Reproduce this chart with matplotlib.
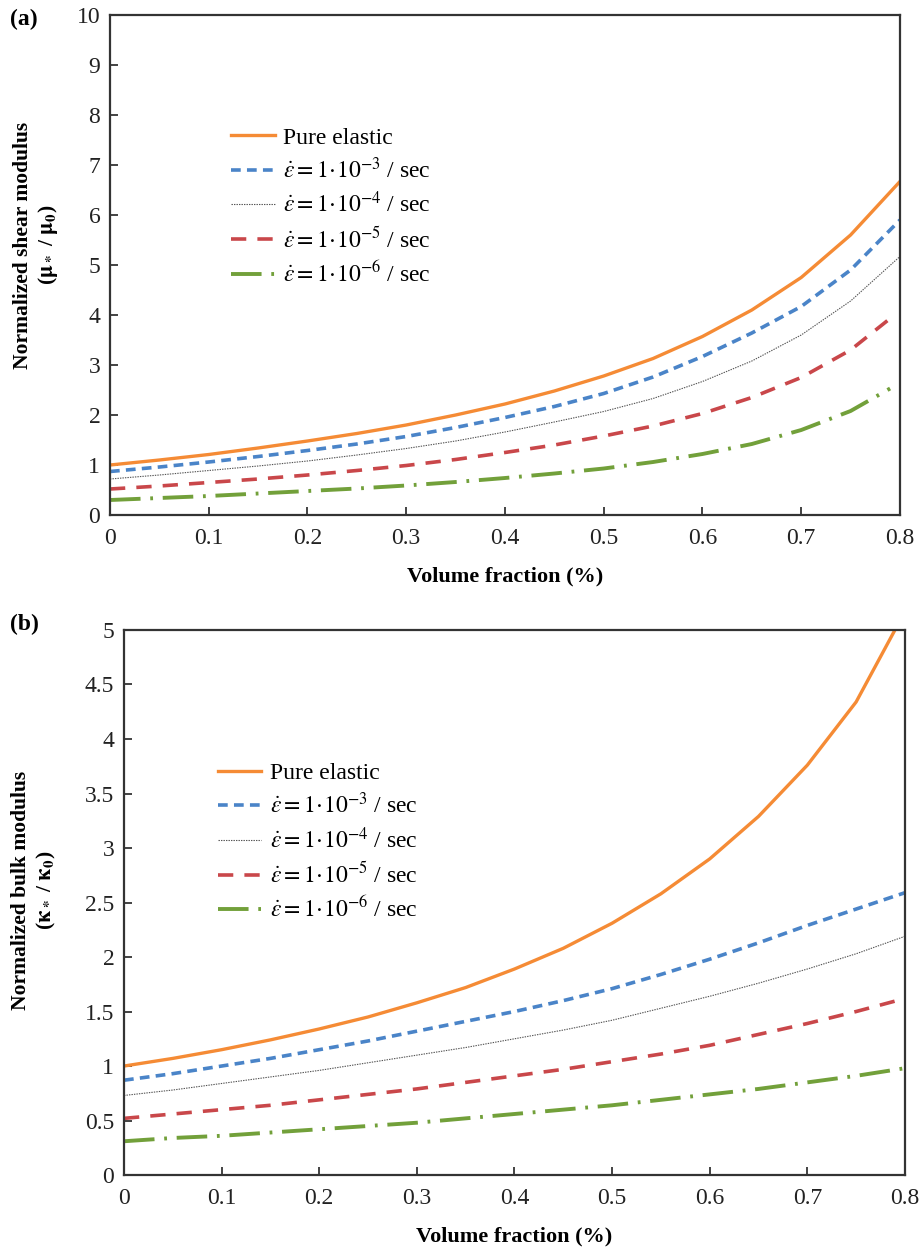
import numpy as np
import matplotlib
matplotlib.use("Agg")
import matplotlib.pyplot as plt
from matplotlib.ticker import FuncFormatter

plt.rcParams['font.family'] = ['Liberation Serif', 'DejaVu Serif']
plt.rcParams['mathtext.fontset'] = 'stix'
plt.rcParams['lines.scale_dashes'] = False

# volume fraction
vf = np.array([0, 0.05, 0.1, 0.15, 0.2, 0.25, 0.3, 0.35, 0.4, 0.45, 0.5, 0.55, 0.6, 0.65, 0.7, 0.75, 0.8])
# red / green curves of (a) stop a little before 0.8
vf_a = np.array([0, 0.05, 0.1, 0.15, 0.2, 0.25, 0.3, 0.35, 0.4, 0.45, 0.5, 0.55, 0.6, 0.65, 0.7, 0.75, 0.79])

# (a) normalized shear modulus
mu_el = np.array([1.00, 1.10, 1.21, 1.34, 1.48, 1.63, 1.80, 2.00, 2.22, 2.48, 2.78, 3.13, 3.57, 4.10, 4.75, 5.60, 6.67])
mu_3 = np.array([0.87, 0.96, 1.06, 1.17, 1.29, 1.42, 1.57, 1.75, 1.95, 2.17, 2.43, 2.76, 3.17, 3.64, 4.17, 4.90, 5.90])
mu_4 = np.array([0.72, 0.80, 0.89, 0.98, 1.08, 1.20, 1.33, 1.48, 1.66, 1.86, 2.07, 2.33, 2.67, 3.08, 3.60, 4.28, 5.17])
mu_5 = np.array([0.52, 0.58, 0.65, 0.72, 0.80, 0.89, 0.99, 1.11, 1.25, 1.40, 1.58, 1.78, 2.03, 2.35, 2.75, 3.30, 3.93])
mu_6 = np.array([0.30, 0.34, 0.38, 0.43, 0.48, 0.53, 0.59, 0.66, 0.74, 0.83, 0.93, 1.06, 1.22, 1.42, 1.70, 2.08, 2.53])

# (b) normalized bulk modulus
k_el = np.array([1.00, 1.07, 1.15, 1.24, 1.34, 1.45, 1.58, 1.72, 1.89, 2.08, 2.31, 2.58, 2.90, 3.29, 3.76, 4.34, 5.17])
k_3 = np.array([0.87, 0.93, 1.00, 1.07, 1.15, 1.23, 1.32, 1.41, 1.50, 1.60, 1.71, 1.84, 1.98, 2.13, 2.29, 2.44, 2.59])
k_4 = np.array([0.73, 0.78, 0.84, 0.90, 0.96, 1.03, 1.10, 1.17, 1.25, 1.33, 1.42, 1.53, 1.64, 1.76, 1.89, 2.03, 2.19])
k_5 = np.array([0.52, 0.56, 0.60, 0.64, 0.69, 0.74, 0.79, 0.85, 0.91, 0.97, 1.04, 1.11, 1.19, 1.29, 1.39, 1.50, 1.62])
k_6 = np.array([0.31, 0.34, 0.36, 0.39, 0.42, 0.45, 0.48, 0.52, 0.56, 0.60, 0.64, 0.69, 0.74, 0.79, 0.85, 0.91, 0.98])

labels = ['Pure elastic',
          r'$\dot{\varepsilon}=1\!\cdot\!10^{-3}$ / sec',
          r'$\dot{\varepsilon}=1\!\cdot\!10^{-4}$ / sec',
          r'$\dot{\varepsilon}=1\!\cdot\!10^{-5}$ / sec',
          r'$\dot{\varepsilon}=1\!\cdot\!10^{-6}$ / sec']

styles = [dict(color='#F58B35', lw=2.4, ls='-'),
          dict(color='#4A84C8', lw=2.6, dashes=(7, 4.5)),
          dict(color='#555555', lw=0.8, dashes=(1, 0.8)),
          dict(color='#C9474A', lw=2.6, dashes=(11, 8)),
          dict(color='#72A03A', lw=2.8, dashes=(22, 7, 2, 7))]

fig = plt.figure(figsize=(9.22, 12.47), dpi=100)
ax1 = fig.add_axes([0.1193, 0.587, 0.8568, 0.401])
ax2 = fig.add_axes([0.1345, 0.0577, 0.847, 0.4371])

fmt = FuncFormatter(lambda v, p: '%g' % v)

def style_axes(ax, ymax, ystep):
    ax.set_xlim(0, 0.8)
    ax.set_ylim(0, ymax)
    ax.set_xticks(np.arange(0, 0.81, 0.1))
    ax.set_yticks(np.arange(0, ymax + 0.01, ystep))
    ax.xaxis.set_major_formatter(fmt)
    ax.yaxis.set_major_formatter(fmt)
    ax.tick_params(direction='in', length=6, width=1.2, labelsize=17, colors='#222222')
    ax.tick_params(axis='x', pad=9)
    ax.tick_params(axis='y', pad=7)
    for s in ax.spines.values():
        s.set_linewidth(1.6)
        s.set_color('#333333')
    ax.set_xlabel('Volume fraction (%)', fontsize=16, fontweight='bold', labelpad=13)

xs_a = [vf, vf, vf, vf_a, vf_a]
for y, x, lab, st in zip([mu_el, mu_3, mu_4, mu_5, mu_6], xs_a, labels, styles):
    ax1.plot(x, y, label=lab, **st)
for y, lab, st in zip([k_el, k_3, k_4, k_5, k_6], labels, styles):
    ax2.plot(vf, y, label=lab, **st)

style_axes(ax1, 10, 1)
style_axes(ax2, 5, 0.5)

ax1.set_ylabel('Normalized shear modulus\n' + r'($\mathbf{\mu_*}$ / $\mathbf{\mu_0}$)', fontsize=15.5, fontweight='bold')
ax1.yaxis.set_label_coords(-0.063, 0.54)
ax2.set_ylabel('Normalized bulk modulus\n' + r'($\mathbf{\kappa_*}$ / $\mathbf{\kappa_0}$)', fontsize=15.5, fontweight='bold')
ax2.yaxis.set_label_coords(-0.085, 0.523)

for ax, anchor in [(ax1, (0.153, 0.776)), (ax2, (0.12, 0.757))]:
    ax.legend(loc='upper left', bbox_to_anchor=anchor, frameon=False, fontsize=17,
              handlelength=1.85, handletextpad=0.35, labelspacing=0.38, borderpad=0, borderaxespad=0)

fig.text(0.011, 0.993, '(a)', fontsize=17, fontweight='bold', va='top')
fig.text(0.011, 0.508, '(b)', fontsize=17, fontweight='bold', va='top')

fig.savefig('out.png', dpi=100)
